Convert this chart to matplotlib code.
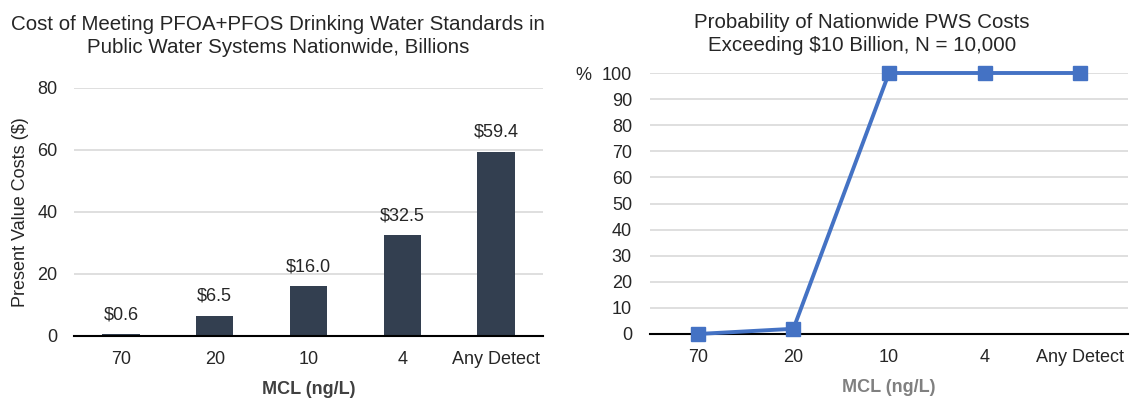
import matplotlib
matplotlib.use("Agg")
import matplotlib.pyplot as plt

plt.rcParams['font.family'] = ['Liberation Sans', 'DejaVu Sans']

categories = ["70", "20", "10", "4", "Any Detect"]
costs = [0.6, 6.5, 16.0, 32.5, 59.4]
cost_labels = ["$0.6", "$6.5", "$16.0", "$32.5", "$59.4"]
prob_pct = [0, 2, 100, 100, 100]

bar_color = "#333F50"
line_color = "#4472C4"
text_color = "#262626"
grid_color = "#D9D9D9"
fs = 13

fig = plt.figure(figsize=(11.3, 4.01), dpi=100)

# Left chart
ax1 = fig.add_axes([74/1130, 1-336/401, (543-74)/1130, (336-88)/401])
x = list(range(len(categories)))
ax1.bar(x, costs, width=0.4, color=bar_color, zorder=3)
for xi, v, lab in zip(x, costs, cost_labels):
    ax1.annotate(lab, (xi, v), xytext=(0, 8), textcoords="offset points",
                 ha="center", va="bottom", fontsize=fs, color=text_color)
ax1.set_ylim(0, 80)
ax1.set_xlim(-0.5, 4.5)
ax1.set_yticks([0, 20, 40, 60, 80])
ax1.set_xticks(x)
ax1.set_xticklabels(categories)
ax1.grid(axis="y", color=grid_color, linewidth=1.2, zorder=0)
for s in ["top", "right", "left"]:
    ax1.spines[s].set_visible(False)
ax1.spines["bottom"].set_color("black")
ax1.spines["bottom"].set_linewidth(1.5)
ax1.spines["bottom"].set_zorder(4)
ax1.tick_params(axis="both", length=0, labelsize=fs, labelcolor=text_color)
ax1.tick_params(axis="y", pad=12)
ax1.tick_params(axis="x", pad=11)
ax1.set_ylabel("Present Value Costs ($)", fontsize=fs, color=text_color, labelpad=6)
ax1.set_xlabel("MCL (ng/L)", fontsize=fs, fontweight="bold", color="#404040", labelpad=9)
fig.text(278/1130, 1-53/401, "Cost of Meeting PFOA+PFOS Drinking Water Standards in\nPublic Water Systems Nationwide, Billions",
         fontsize=14.8, color=text_color, ha="center", va="baseline", linespacing=1.3)

# Right chart
ax2 = fig.add_axes([650/1130, 1-334/401, (1128-650)/1130, (334-73)/401])
ax2.plot(x, prob_pct, color=line_color, linewidth=2.8, marker="s", markersize=10,
         zorder=3, clip_on=False)
ax2.set_ylim(0, 100)
ax2.set_xlim(-0.5, 4.5)
ax2.set_yticks(range(0, 101, 10))
ax2.set_xticks(x)
ax2.set_xticklabels(categories)
ax2.grid(axis="y", color=grid_color, linewidth=1.2, zorder=0)
for s in ["top", "right", "left"]:
    ax2.spines[s].set_visible(False)
ax2.spines["bottom"].set_color("black")
ax2.spines["bottom"].set_linewidth(1.5)
ax2.tick_params(axis="both", length=0, labelsize=fs, labelcolor=text_color)
ax2.tick_params(axis="y", pad=13)
ax2.tick_params(axis="x", pad=11)
ax2.text(583/1130, 1-73/401, "%", transform=fig.transFigure, ha="center", va="center_baseline",
         fontsize=fs, color=text_color)
ax2.set_xlabel("MCL (ng/L)", fontsize=fs, fontweight="bold", color="#808080", labelpad=9)
fig.text(862/1130, 1-51/401, "Probability of Nationwide PWS Costs\nExceeding $10 Billion, N = 10,000",
         fontsize=14.8, color=text_color, ha="center", va="baseline", linespacing=1.3)

fig.savefig("out.png", dpi=100, facecolor="white")
